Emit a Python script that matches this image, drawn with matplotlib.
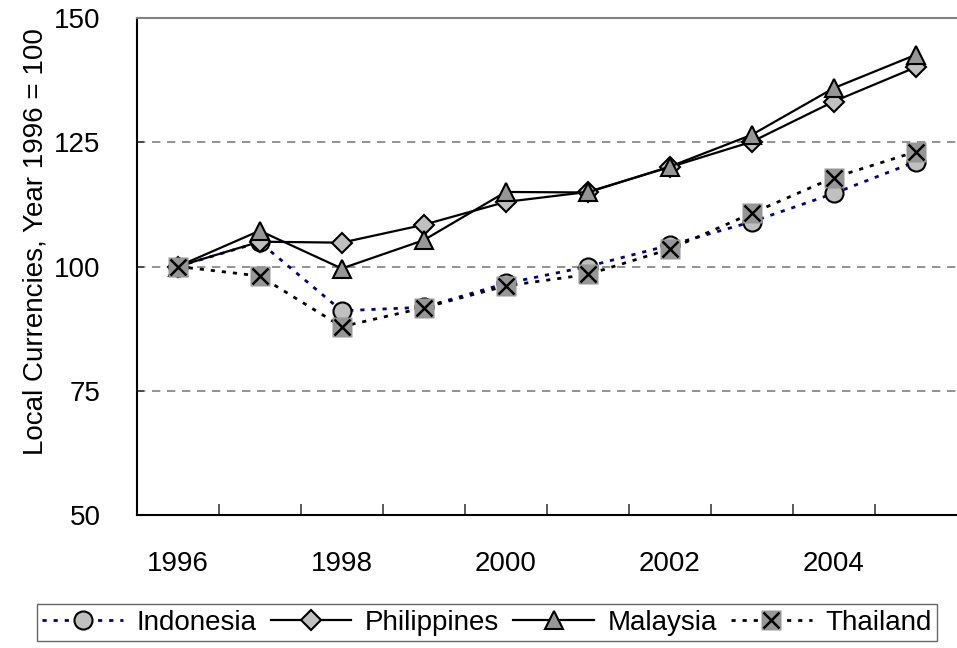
import matplotlib
matplotlib.use("Agg")
import matplotlib.pyplot as plt
from matplotlib.legend_handler import HandlerTuple

plt.rcParams['font.family'] = ['Liberation Sans', 'DejaVu Sans']
plt.rcParams['font.size'] = 20

years = ['1996', '1997', '1998', '1999', '2000', '2001', '2002', '2003', '2004', '2005']
indonesia = [100.0, 104.9, 91.1, 91.8, 96.6, 100.0, 104.3, 109.0, 114.7, 121.1]
philippines = [100.0, 105.0, 104.8, 108.4, 113.0, 115.0, 120.0, 125.1, 133.2, 140.1]
malaysia = [100.0, 107.2, 99.6, 105.3, 115.0, 114.9, 120.1, 126.5, 135.9, 142.6]
thailand = [100.0, 98.1, 87.9, 91.7, 96.1, 98.4, 103.5, 110.7, 117.9, 123.1]

x = list(range(len(years)))

fig = plt.figure(figsize=(9.57, 6.48), dpi=100)
ax = fig.add_axes([0.1428, 0.2052, 0.857, 0.767])

for v in (75, 100, 125):
    ax.axhline(v, color='#808080', lw=1.2, dashes=(5, 4), zorder=1)

l_ind, = ax.plot(x, indonesia, color='#000080', lw=2, dashes=(1.5, 2.5),
                 marker='o', ms=13, mfc='#C0C0C0', mec='black', mew=1.5, zorder=3)
l_phi, = ax.plot(x, philippines, color='black', lw=1.6,
                 marker='D', ms=10, mfc='#C0C0C0', mec='black', mew=1.5, zorder=4)
l_mal, = ax.plot(x, malaysia, color='black', lw=1.6,
                 marker='^', ms=13, mfc='#969696', mec='black', mew=1.5, zorder=5)
l_tha, = ax.plot(x, thailand, color='black', lw=2, dashes=(1.5, 2.5),
                 marker='s', ms=15, mfc='#969696', mec='none', zorder=6)
l_thx, = ax.plot(x, thailand, ls='none', marker='x', ms=11, mec='black', mew=1.8, zorder=7)

ax.set_xlim(-0.5, len(years) - 0.5)
ax.set_ylim(50, 150)
ax.set_yticks([50, 75, 100, 125, 150])
ax.set_xticks(x[::2])
ax.set_xticklabels(years[::2])
ax.set_xticks([i + 0.5 for i in x[:-1]], minor=True)
ax.tick_params(axis='x', which='major', length=0, pad=26)
ax.tick_params(axis='x', which='minor', direction='in', length=8, width=1.2, color='#404040')
ax.tick_params(axis='y', direction='in', length=5, width=1.2, pad=26, color='#404040')

ax.spines['right'].set_visible(False)
ax.spines['top'].set_color('#808080')
ax.spines['top'].set_linewidth(1.5)
for s in ('left', 'bottom'):
    ax.spines[s].set_color('black')
    ax.spines[s].set_linewidth(1.5)

ax.set_ylabel('Local Currencies, Year 1996 = 100', fontsize=20)
ax.yaxis.set_label_coords(-0.107, 0.55)

fig.legend([l_ind, l_phi, l_mal, (l_tha, l_thx)],
           ['Indonesia', 'Philippines', 'Malaysia', 'Thailand'],
           handler_map={tuple: HandlerTuple(ndivide=1)},
           loc='center', bbox_to_anchor=(0.509, 0.039), ncol=4,
           frameon=True, fancybox=False, edgecolor='#404040',
           handlelength=2.9, handletextpad=0.5, columnspacing=0.5,
           borderpad=0.2, fontsize=20)

fig.savefig('out.png', dpi=100)
